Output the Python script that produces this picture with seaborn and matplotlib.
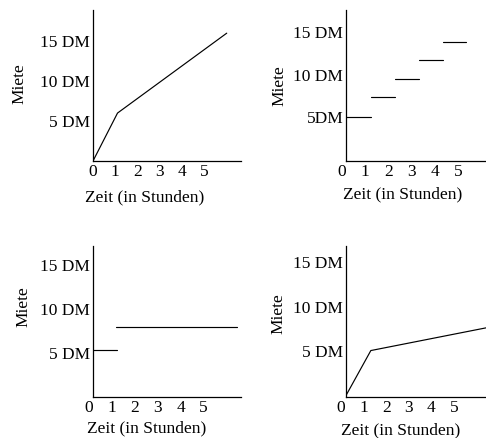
"""Vier Tarifmodelle: Miete in Abhaengigkeit von der Zeit."""
import matplotlib
matplotlib.use("Agg")
import matplotlib.pyplot as plt
import matplotlib.transforms as mtransforms
import pandas as pd
import seaborn as sns

# Oben links: steiler Anfang, dann linear steigend
p1_hours = [0, 1.1, 6.0]
p1_rent = [0, 6, 16]

# Oben rechts: Stufentarif (Stufengrenzen in Stunden)
p2_edges = [0, 1.08, 2.11, 3.15, 4.18, 5.17]
p2_rent = [5, 7.35, 9.5, 11.7, 13.8]

# Unten links: erste Stunde, danach Pauschale
p3_start = [0, 1.0]
p3_end = [1.05, 6.29]
p3_rent = [5.3, 8.0]

# Unten rechts: steiler Anstieg, dann flach
p4_hours = [0, 1.1, 6.2]
p4_rent = [0, 5.05, 7.6]

hour_ticks = [0, 1, 2, 3, 4, 5]
rent_ticks = [5, 10, 15]
rent_labels = ["5 DM", "10 DM", "15 DM"]
rent_labels_p2 = ["5DM", "10 DM", "15 DM"]

sns.set_theme(style="white")
plt.rcParams["font.family"] = ["Liberation Serif", "DejaVu Serif"]
plt.rcParams["font.size"] = 12.5

fig = plt.figure(figsize=(4.86, 4.38), dpi=100)
W, H = 486, 438


def make_ax(left, top, right, bottom):
    return fig.add_axes([left / W, 1 - bottom / H, (right - left) / W, (bottom - top) / H])


def style(ax, xlim, ylim, ylabels, ylab_xy, xlab_xy, xshift):
    ax.set_xlim(*xlim)
    ax.set_ylim(*ylim)
    ax.set_xticks(hour_ticks)
    ax.set_xticklabels([str(h) for h in hour_ticks])
    ax.set_yticks(rent_ticks)
    ax.set_yticklabels(ylabels)
    ax.tick_params(axis="both", length=0, labelsize=12.5, colors="black", pad=2)
    # the hand-drawn hour labels sit a few pixels left of the grid
    shift = mtransforms.ScaledTranslation(xshift / 100, 0, fig.dpi_scale_trans)
    for lab in ax.get_xticklabels():
        lab.set_transform(lab.get_transform() + shift)
    for side in ["top", "right"]:
        ax.spines[side].set_visible(False)
    for side in ["left", "bottom"]:
        ax.spines[side].set_color("black")
        ax.spines[side].set_linewidth(0.9)
    ax.set_ylabel("Miete", fontsize=12.5, va="center", color="black")
    ax.set_xlabel("Zeit (in Stunden)", fontsize=12.5, va="center", color="black")
    ax.yaxis.set_label_coords(*ylab_xy)
    ax.xaxis.set_label_coords(*xlab_xy)
    ax.set_facecolor("white")


def step_frame(starts, ends, rents):
    return pd.DataFrame({
        "seg": [i for i in range(len(rents)) for _ in range(2)],
        "h": [v for i in range(len(rents)) for v in (starts[i], ends[i])],
        "m": [rents[i] for i in range(len(rents)) for _ in range(2)],
    })


LW = 0.85

# Panel 1
ax1 = make_ax(93, 10, 241, 161)
sns.lineplot(x=p1_hours, y=p1_rent, color="black", lw=LW, ax=ax1)
style(ax1, (0, 6.64), (0, 18.9), rent_labels, (-0.5, 0.51), (0.35, -0.24), 0)

# Panel 2
ax2 = make_ax(346, 10, 485, 161)
df2 = step_frame(p2_edges[:-1], p2_edges[1:], p2_rent)
sns.lineplot(data=df2, x="h", y="m", units="seg", estimator=None, color="black", lw=LW, ax=ax2)
style(ax2, (0, 6.0), (-0.18, 17.6), rent_labels_p2, (-0.48, 0.5), (0.41, -0.22), -4)

# Panel 3
ax3 = make_ax(93, 246, 241, 397)
df3 = step_frame(p3_start, p3_end, p3_rent)
sns.lineplot(data=df3, x="h", y="m", units="seg", estimator=None, color="black", lw=LW, ax=ax3)
style(ax3, (0, 6.46), (0, 17.2), rent_labels, (-0.47, 0.6), (0.36, -0.21), -4)

# Panel 4
ax4 = make_ax(346, 246, 486, 397)
sns.lineplot(x=p4_hours, y=p4_rent, color="black", lw=LW, ax=ax4)
style(ax4, (0, 6.2), (-0.17, 16.8), rent_labels, (-0.48, 0.55), (0.39, -0.22), -5)

fig.savefig("out.png", dpi=100, facecolor="white")
